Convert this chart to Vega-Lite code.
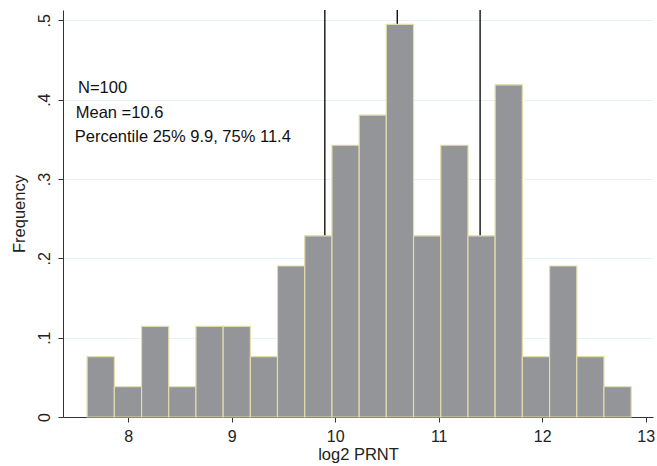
{
  "$schema": "https://vega.github.io/schema/vega-lite/v6.json",
  "width": 590,
  "height": 407,
  "autosize": {"type": "none"},
  "padding": {"left": 63, "top": 10, "right": 4, "bottom": 49},
  "background": "white",
  "config": {
    "view": {"stroke": null},
    "font": "Liberation Sans",
    "axis": {"labelFont": "Liberation Sans", "titleFont": "Liberation Sans", "labelColor": "#222", "titleColor": "#222", "titleFontWeight": "normal", "domainColor": "#333", "tickColor": "#333"}
  },
  "datasets": {
    "bins": [
      {"bin_start": 7.604, "bin_end": 7.867, "density": 0.0761},
      {"bin_start": 7.867, "bin_end": 8.130, "density": 0.0381},
      {"bin_start": 8.130, "bin_end": 8.392, "density": 0.1142},
      {"bin_start": 8.392, "bin_end": 8.655, "density": 0.0381},
      {"bin_start": 8.655, "bin_end": 8.918, "density": 0.1142},
      {"bin_start": 8.918, "bin_end": 9.181, "density": 0.1142},
      {"bin_start": 9.181, "bin_end": 9.443, "density": 0.0761},
      {"bin_start": 9.443, "bin_end": 9.706, "density": 0.1903},
      {"bin_start": 9.706, "bin_end": 9.969, "density": 0.2284},
      {"bin_start": 9.969, "bin_end": 10.232, "density": 0.3425},
      {"bin_start": 10.232, "bin_end": 10.494, "density": 0.3806},
      {"bin_start": 10.494, "bin_end": 10.757, "density": 0.4948},
      {"bin_start": 10.757, "bin_end": 11.020, "density": 0.2284},
      {"bin_start": 11.020, "bin_end": 11.283, "density": 0.3425},
      {"bin_start": 11.283, "bin_end": 11.545, "density": 0.2284},
      {"bin_start": 11.545, "bin_end": 11.808, "density": 0.4187},
      {"bin_start": 11.808, "bin_end": 12.071, "density": 0.0761},
      {"bin_start": 12.071, "bin_end": 12.334, "density": 0.1903},
      {"bin_start": 12.334, "bin_end": 12.596, "density": 0.0761},
      {"bin_start": 12.596, "bin_end": 12.859, "density": 0.0381}
    ],
    "stats": [
      {"stat": "p25", "value": 9.9},
      {"stat": "mean", "value": 10.6},
      {"stat": "p75", "value": 11.4}
    ],
    "labels": [
      {"label": "N=100", "lx": 7.516, "ly": 0.4147},
      {"label": "Mean =10.6", "lx": 7.494, "ly": 0.3838},
      {"label": "Percentile 25% 9.9, 75% 11.4", "lx": 7.484, "ly": 0.3535}
    ]
  },
  "layer": [
    {
      "data": {"name": "stats"},
      "mark": {"type": "rule", "color": "#111", "strokeWidth": 1.4},
      "encoding": {
        "x": {"field": "value", "type": "quantitative"},
        "y": {"datum": 0},
        "y2": {"datum": 0.513}
      }
    },
    {
      "data": {"name": "bins"},
      "mark": {"type": "rect", "fill": "#939598", "stroke": "#e3dbab", "strokeWidth": 1.2},
      "encoding": {
        "x": {"field": "bin_start", "type": "quantitative", "scale": {"domain": [7.371, 13.07], "nice": false, "zero": false},
          "title": "log2 PRNT",
          "axis": {"values": [8, 9, 10, 11, 12, 13], "format": "d", "grid": false, "labelFontSize": 16, "titleFontSize": 16.5, "tickSize": 5, "labelPadding": 6, "titlePadding": 2, "domainWidth": 1}},
        "x2": {"field": "bin_end"},
        "y": {"field": "density", "type": "quantitative", "scale": {"domain": [0, 0.513], "nice": false},
          "title": "Frequency",
          "axis": {"values": [0, 0.1, 0.2, 0.3, 0.4, 0.5], "labelExpr": "datum.value == 0 ? '0' : replace(format(datum.value, '.1f'), '0.', '.')", "labelAngle": -90, "labelAlign": "center", "labelBaseline": "bottom", "labelFontSize": 16, "titleFontSize": 16.5, "tickSize": 5, "labelPadding": 6, "titlePadding": 9, "grid": true, "gridColor": "#e8f1f4", "gridWidth": 1}},
        "y2": {"datum": 0}
      }
    },
    {
      "data": {"name": "labels"},
      "mark": {"type": "text", "align": "left", "baseline": "middle", "fontSize": 16.5, "color": "#111"},
      "encoding": {
        "x": {"field": "lx", "type": "quantitative"},
        "y": {"field": "ly", "type": "quantitative"},
        "text": {"field": "label"}
      }
    }
  ]
}
